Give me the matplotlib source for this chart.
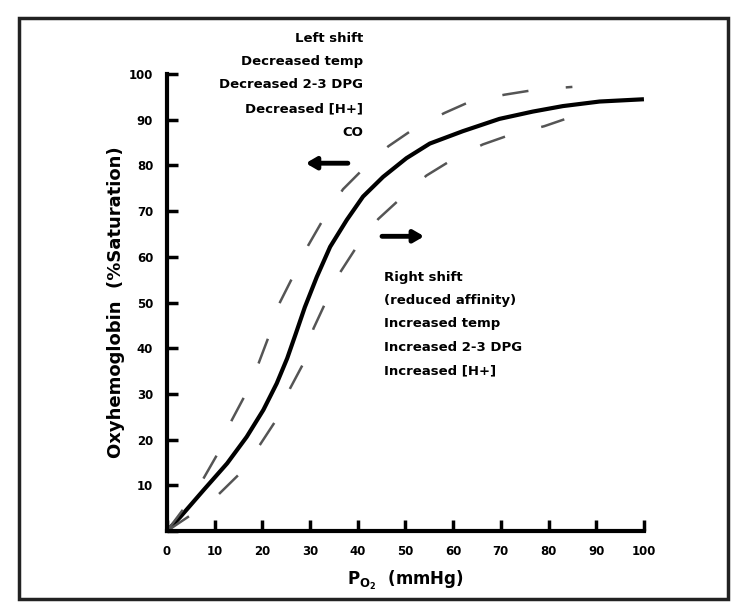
import numpy as np
import matplotlib; matplotlib.use("Agg"); import matplotlib.pyplot as plt
from matplotlib.patches import Rectangle

plt.rcParams["font.family"] = ["DejaVu Sans"]
plt.rcParams["lines.scale_dashes"] = False

# values (PO2 mmHg, % saturation)
normal_po2 = [0, 2.8, 7.7, 12.6, 16.7, 20.2, 23, 25.2, 27.0, 28.9, 31.4, 34.2, 37.7, 41.1, 45.3, 50.2, 55.1, 62, 69.7, 76.7, 83, 90.7, 100]
normal_sat = [0, 3.1, 9.0, 14.8, 20.6, 26.5, 32.3, 37.8, 43.2, 49.0, 55.6, 62.2, 68.1, 73.2, 77.5, 81.6, 84.8, 87.5, 90.2, 91.8, 93, 94.0, 94.5]
left_po2 = [0, 5, 7.7, 10.5, 13.6, 16.4, 19.2, 21.3, 23.7, 26.5, 29.6, 32.8, 36.9, 41.1, 46.4, 52, 58.2, 63.8, 70.8, 77.4, 85]
left_sat = [0, 7, 11.6, 16.7, 24.3, 29.8, 36.7, 42.5, 50.1, 55.9, 62.5, 68.3, 74.8, 79.2, 84.2, 88.2, 91.5, 94.1, 95.5, 96.6, 97.2]
right_po2 = [0, 5, 10.8, 15, 19.5, 22.7, 25.8, 28.6, 30.7, 33.1, 36.3, 39.7, 44.3, 49.2, 54.4, 60, 66.2, 72.2, 79.1, 83.3]
right_sat = [0, 3.5, 8, 12.3, 18.9, 24, 31.2, 36.7, 44.3, 49.7, 56.6, 62.1, 68.3, 73, 77.8, 81.4, 84.6, 86.8, 88.6, 90.1]
ticks = list(range(0, 101, 10))
xticklabels = [str(t) for t in ticks]
yticklabels = [""] + [str(t) for t in ticks[1:]]
left_text = ["Left shift", "Decreased temp", "Decreased 2-3 DPG", "Decreased [H+]", "CO"]
right_text = ["Right shift", "(reduced affinity)", "Increased temp", "Increased 2-3 DPG", "Increased [H+]"]

fig = plt.figure(figsize=(7.44, 6.10), dpi=100)
ax = fig.add_axes([0.2245, 0.1295, 0.641, 0.749])
ax.plot(normal_po2, normal_sat, color="black", lw=3, clip_on=False, solid_capstyle="butt", solid_joinstyle="round")
for xs, ys in [(left_po2, left_sat), (right_po2, right_sat)]:
    ax.plot(xs, ys, color="#555555", lw=1.8, ls=(0, (19, 27)), clip_on=False)

ax.set_xlim(0, 100); ax.set_ylim(0, 100)
for s in ["top", "right"]: ax.spines[s].set_visible(False)
for s in ["left", "bottom"]: ax.spines[s].set_linewidth(3)
ax.set_xticks(ticks); ax.set_xticklabels(xticklabels, fontsize=8.5, fontweight="bold")
ax.set_yticks(ticks); ax.set_yticklabels(yticklabels, fontsize=8.5, fontweight="bold")
ax.tick_params(direction="in", length=8, width=2.5, pad=10)
ax.set_ylabel("Oxyhemoglobin  (%Saturation)", fontsize=13, fontweight="bold", labelpad=3)
ax.set_xlabel(r"P$_{\mathregular{O_2}}$  (mmHg)", fontsize=12, fontweight="bold", labelpad=8)

# annotation blocks and arrows (figure pixel coords)
for i, t in enumerate(left_text):
    fig.text(363 / 744, 1 - (38 + 23.5 * i) / 610, t, ha="right", va="center", fontsize=9.5, fontweight="bold")
for i, t in enumerate(right_text):
    fig.text(384 / 744, 1 - (277 + 23.5 * i) / 610, t, ha="left", va="center", fontsize=9.5, fontweight="bold")
ax.annotate("", xy=(28.5, 80.5), xytext=(38.5, 80.5),
            arrowprops=dict(arrowstyle="-|>,head_length=0.6,head_width=0.35", lw=3.5, color="black"))
ax.annotate("", xy=(54.5, 64.5), xytext=(44.5, 64.5),
            arrowprops=dict(arrowstyle="-|>,head_length=0.6,head_width=0.35", lw=3.5, color="black"))

fig.patches.append(Rectangle((19 / 744, 1 - 599 / 610), (728 - 19) / 744, (599 - 18) / 610,
                             transform=fig.transFigure, fill=False, lw=2.5, ec="#222222"))
fig.savefig("out.png", dpi=100)
